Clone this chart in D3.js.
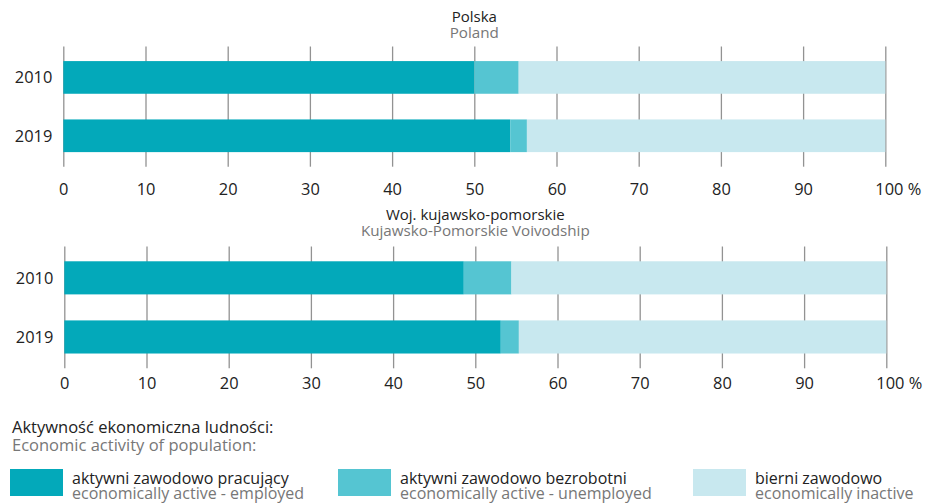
<!DOCTYPE html>
<html><head><meta charset="utf-8">
<script src="https://cdn.jsdelivr.net/npm/d3@7"></script>
<style>body{margin:0;background:#fff}text{font-family:"Open Sans",sans-serif}</style>
</head><body>
<svg id="c" width="927" height="504"></svg>
<script>
const years = ["2010", "2019"];
const seriesKeys = ["employed", "unemployed", "inactive"];
const polandEmployed = [50.0, 54.4];
const polandUnemployed = [5.4, 2.0];
const polandInactive = [44.6, 43.6];
const regionEmployed = [48.6, 53.1];
const regionUnemployed = [5.8, 2.2];
const regionInactive = [45.6, 44.7];
const tickValues = [0, 10, 20, 30, 40, 50, 60, 70, 80, 90, 100];
const colors = ["#03a9ba", "#55c5d2", "#c8e8ef"];
const legendPl = ["aktywni zawodowo pracujący", "aktywni zawodowo bezrobotni", "bierni zawodowo"];
const legendEn = ["economically active - employed", "economically active - unemployed", "economically inactive"];

const svg = d3.select("#c");

function panel(cfg) {
  const x = d3.scaleLinear().domain([0, 100]).range([cfg.x0, cfg.x0 + 822]);
  const y = d3.scaleBand().domain(years).range([cfg.top, cfg.bottom]).paddingInner(0.44).paddingOuter(0.25);
  const g = svg.append("g");
  g.append("text").attr("x", (cfg.x0 + cfg.x0 + 822) / 2).attr("y", cfg.titleY)
    .attr("text-anchor", "middle").attr("font-size", 15).attr("fill", "#222").text(cfg.title);
  g.append("text").attr("x", (cfg.x0 + cfg.x0 + 822) / 2).attr("y", cfg.titleY + 16)
    .attr("text-anchor", "middle").attr("font-size", 15.2).attr("fill", "#777").text(cfg.subtitle);
  g.selectAll("line.grid").data(tickValues).join("line").attr("class", "grid")
    .attr("x1", d => x(d) + 0.5).attr("x2", d => x(d) + 0.5)
    .attr("y1", cfg.top).attr("y2", cfg.bottom)
    .attr("stroke", "#929292").attr("stroke-width", 1.3);
  const rows = years.map((yr, i) => ({ year: yr, employed: cfg.data[0][i], unemployed: cfg.data[1][i], inactive: cfg.data[2][i] }));
  const stack = d3.stack().keys(seriesKeys)(rows);
  g.selectAll("g.s").data(stack).join("g").attr("class", "s").attr("fill", (d, i) => colors[i])
    .selectAll("rect").data(d => d).join("rect")
    .attr("x", d => x(d[0])).attr("width", d => x(d[1]) - x(d[0]))
    .attr("y", d => y(d.data.year)).attr("height", y.bandwidth());
  const ax = d3.axisBottom(x).tickValues(tickValues).tickSize(0).tickPadding(0)
    .tickFormat(d => d === 100 ? "100 %" : d);
  const axg = g.append("g").attr("transform", `translate(0,${cfg.labelY})`).call(ax);
  axg.select(".domain").remove();
  axg.selectAll("text").attr("font-size", 16.4).attr("fill", "#222").attr("font-family", "Open Sans").attr("dy", 0)
    .attr("dx", d => d === 100 ? 12.5 : 0);
  const ay = d3.axisLeft(y).tickSize(0).tickPadding(0);
  const ayg = g.append("g").attr("transform", `translate(${cfg.x0 - 11},0)`).call(ay);
  ayg.select(".domain").remove();
  ayg.selectAll("text").attr("font-size", 16.4).attr("fill", "#222").attr("font-family", "Open Sans").attr("dy", "0.35em");
}

panel({ x0: 63.3, top: 46.5, bottom: 166.7, titleY: 22, labelY: 195, title: "Polska", subtitle: "Poland",
  data: [polandEmployed, polandUnemployed, polandInactive] });
panel({ x0: 64.3, top: 246.5, bottom: 368.3, titleY: 220, labelY: 388.5, title: "Woj. kujawsko-pomorskie", subtitle: "Kujawsko-Pomorskie Voivodship",
  data: [regionEmployed, regionUnemployed, regionInactive] });

const lg = svg.append("g");
lg.append("text").attr("x", 12).attr("y", 433).attr("font-size", 16.5).attr("fill", "#222").text("Aktywność ekonomiczna ludności:");
lg.append("text").attr("x", 12).attr("y", 451).attr("font-size", 16.5).attr("fill", "#777").text("Economic activity of population:");
const legendX = [10, 338, 693];
const items = lg.selectAll("g.item").data(seriesKeys).join("g").attr("class", "item")
  .attr("transform", (d, i) => `translate(${legendX[i]},0)`);
items.append("rect").attr("x", 0).attr("y", 469).attr("width", 53).attr("height", 27).attr("fill", (d, i) => colors[i]);
items.append("text").attr("x", 62).attr("y", 483.5).attr("font-size", 16).attr("fill", "#222").text((d, i) => legendPl[i]);
items.append("text").attr("x", 62).attr("y", 498.5).attr("font-size", 16).attr("fill", "#777").text((d, i) => legendEn[i]);
</script>
</body></html>
